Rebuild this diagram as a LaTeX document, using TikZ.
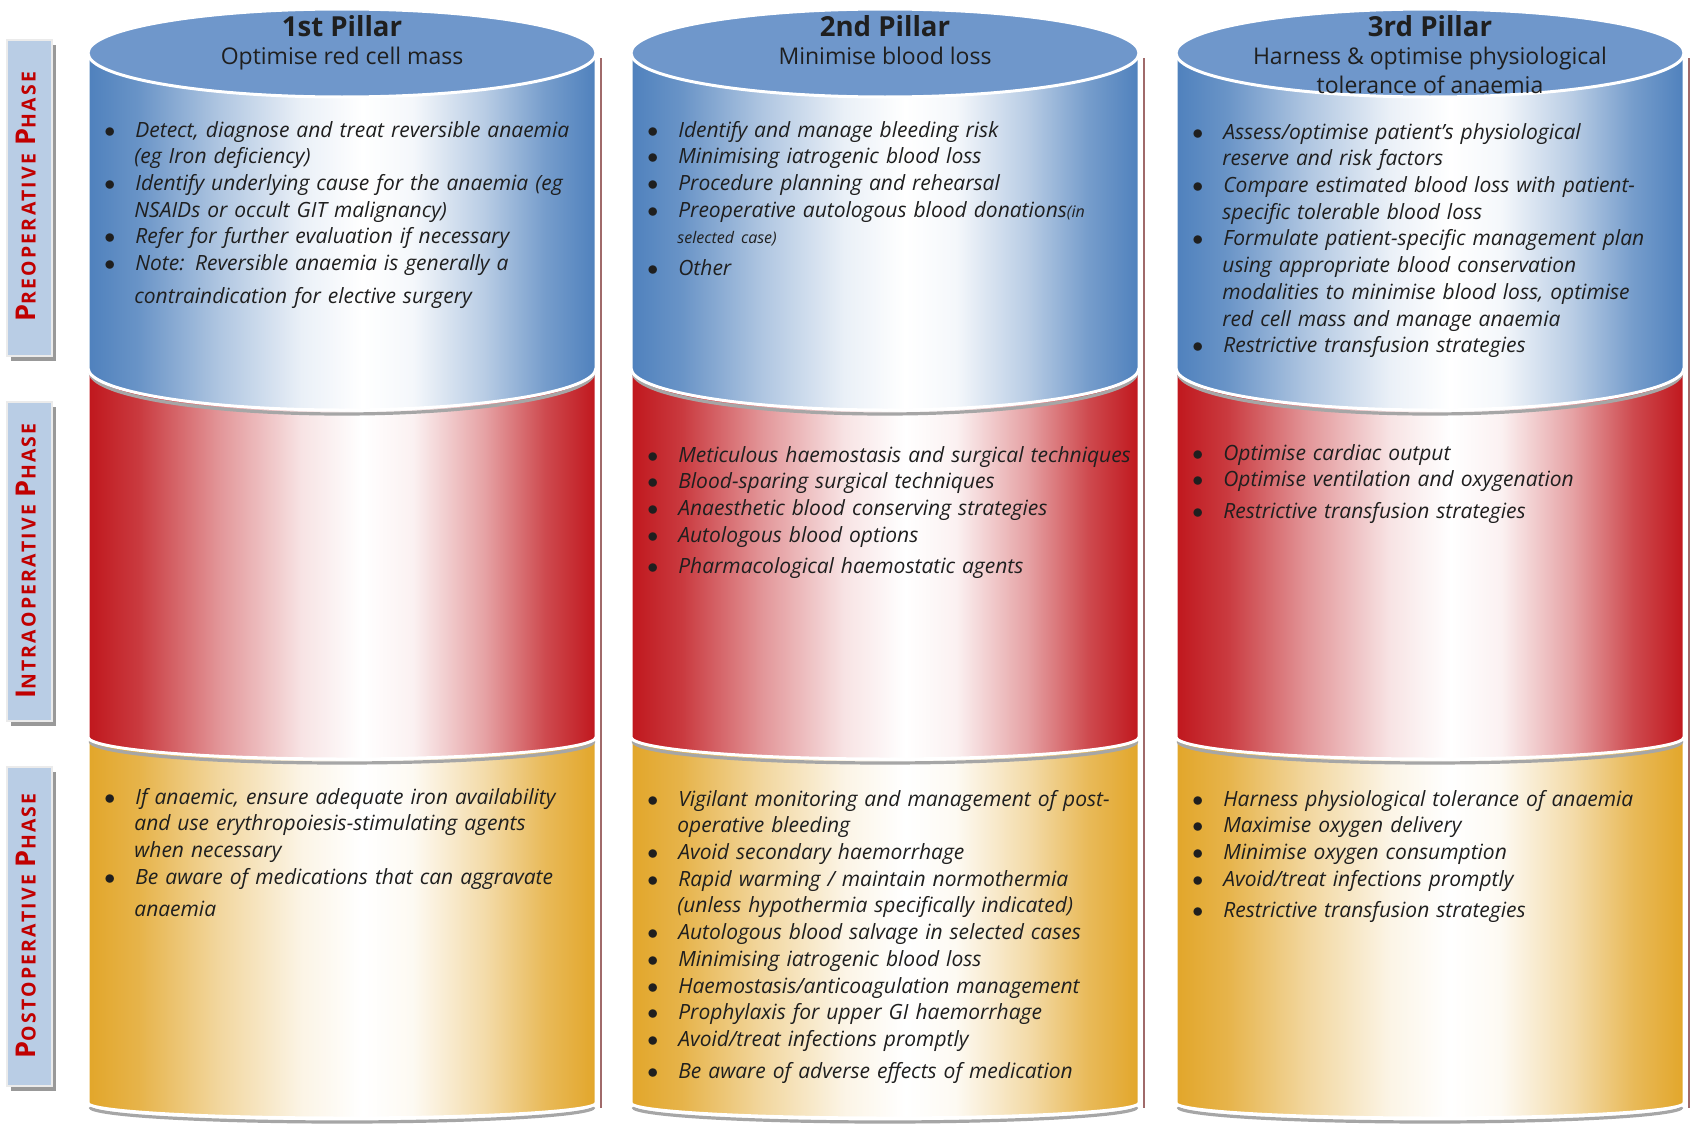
\documentclass[tikz,border=0pt]{standalone}
\usepackage{fontspec}
\setmainfont{Open Sans}
\newfontfamily\phasefont[LetterSpace=12]{Open Sans}
\usetikzlibrary{positioning}
\definecolor{segblue}{HTML}{4F81BD}
\definecolor{capblue}{HTML}{6F97CB}
\definecolor{segred}{HTML}{C0171D}
\definecolor{seggold}{HTML}{E2A62A}
\definecolor{phasefill}{HTML}{B9CDE5}
\definecolor{phasered}{HTML}{C00000}
\definecolor{rim}{HTML}{A06A6A}

% side shading of a pillar band: colour at the rims, white a bit right of centre
\newcommand\bandshading[2]{%
  \pgfdeclarehorizontalshading{#1}{100bp}{color(0bp)=(#2); color(25bp)=(#2);
    color(30bp)=(#2!85!white); color(38bp)=(#2!45!white); color(46bp)=(#2!12!white);
    color(52bp)=(white); color(57bp)=(#2!6!white); color(64bp)=(#2!40!white);
    color(70bp)=(#2!78!white); color(75bp)=(#2); color(100bp)=(#2)}}
\bandshading{bandblue}{segblue}
\bandshading{bandred}{segred}
\bandshading{bandgold}{seggold}

\newenvironment{pillarlist}{\begin{list}{$\bullet$}{%
  \setlength{\leftmargin}{16pt}\setlength{\labelwidth}{5pt}\setlength{\labelsep}{10pt}%
  \setlength{\itemsep}{0pt}\setlength{\parsep}{0pt}\setlength{\topsep}{0pt}%
  \setlength{\partopsep}{0pt}}}{\end{list}}
\newcommand\capword[2]{{\fontsize{13.6}{13.6}\selectfont #1}{\fontsize{9.7}{9.7}\selectfont #2}}
\newcommand\gap{\vspace{2.5pt}}

\begin{document}
\begin{tikzpicture}[x=0.5pt,y=-0.5pt,
    bandedge/.style={draw=white,line width=1.5pt},
    bandshadow/.style={black!35,line width=1.6pt},
    items/.style={anchor=north west,inner sep=0pt,text width=250pt,align=left,
      font=\fontsize{10.5}{13.35}\selectfont\itshape,text=black!88},
    pillartitle/.style={anchor=north,inner sep=0pt,align=center,
      font=\fontsize{11.5}{14.2}\selectfont,text=black!88},
    phasebox/.style={fill=phasefill,draw=black!8,line width=0.8pt},
    phaselabel/.style={rotate=90,font=\phasefont\bfseries,text=phasered}]
  \fill[white] (0,0) rectangle (1694,1124);
  \useasboundingbox (0,0) rectangle (1694,1124);

  % Phase tabs
  \fill[black!40] (11,45) rectangle (56,361);
  \fill[phasebox] (7,40) rectangle (52,356);
  \node[phaselabel] (prelabel) at (26,197) {\capword{P}{REOPERATIVE} \capword{P}{HASE}};

  \fill[black!40] (11,407) rectangle (56,726);
  \fill[phasebox] (7,402) rectangle (52,721);
  \node[phaselabel] (intralabel) at (26,561) {\capword{I}{NTRAOPERATIVE} \capword{P}{HASE}};

  \fill[black!40] (11,772) rectangle (56,1091);
  \fill[phasebox] (7,767) rectangle (52,1086);
  \node[phaselabel] (postlabel) at (26,926) {\capword{P}{OSTOPERATIVE} \capword{P}{HASE}};

  % Pillars: gold base, red middle, blue top band and cap
  \foreach \cx in {342,885,1430}{
    \draw[rim,line width=0.6pt] (\cx+259,58) -- (\cx+259,1108);
    \draw[bandshadow] (\cx-252,1107) arc[start angle=180,end angle=0,x radius=252,y radius=15];
    \shadedraw[shading=bandgold,bandedge] (\cx-254,720) -- (\cx-254,1103)
      arc[start angle=180,end angle=0,x radius=254,y radius=15] -- (\cx+254,720) -- cycle;
    \draw[bandshadow] (\cx-252,741) arc[start angle=180,end angle=0,x radius=252,y radius=22];
    \shadedraw[shading=bandred,bandedge] (\cx-254,360) -- (\cx-254,737)
      arc[start angle=180,end angle=0,x radius=254,y radius=22] -- (\cx+254,360) -- cycle;
    \draw[bandshadow] (\cx-252,372) arc[start angle=180,end angle=0,x radius=252,y radius=42];
    \shadedraw[shading=bandblue,bandedge] (\cx-254,53) -- (\cx-254,368)
      arc[start angle=180,end angle=0,x radius=254,y radius=42] -- (\cx+254,53) -- cycle;
    \filldraw[fill=capblue,bandedge] (\cx,53) ellipse [x radius=254,y radius=44];
  }

  % Titles
  \node[pillartitle] (title1) at (342,15)
    {{\fontsize{13.8}{14}\selectfont\bfseries 1st Pillar}\\Optimise red cell mass};
  \node[pillartitle] (title2) at (885,15)
    {{\fontsize{13.8}{14}\selectfont\bfseries 2nd Pillar}\\Minimise blood loss};
  \node[pillartitle] (title3) at (1430,15)
    {{\fontsize{13.8}{14}\selectfont\bfseries 3rd Pillar}\\Harness \& optimise physiological\\tolerance of anaemia};

  % 1st pillar
  \node[items] (p1pre) at (102,110) {\begin{pillarlist}
    \item Detect, diagnose and treat reversible anaemia\\(eg Iron deficiency)
    \item Identify underlying cause for the anaemia (eg\\NSAIDs or occult GIT malignancy)
    \item Refer for further evaluation if necessary
    \item Note: Reversible anaemia is generally a\\[3pt]contraindication for elective surgery
  \end{pillarlist}};
  \node[items] (p1post) at (102,777) {\begin{pillarlist}
    \item If anaemic, ensure adequate iron availability\\and use erythropoiesis-stimulating agents\\when necessary
    \item Be aware of medications that can aggravate\\[3pt]anaemia
  \end{pillarlist}};

  % 2nd pillar
  \node[items] (p2pre) at (645,110) {\begin{pillarlist}
    \item Identify and manage bleeding risk
    \item Minimising iatrogenic blood loss
    \item Procedure planning and rehearsal
    \item Preoperative autologous blood donations{\fontsize{8}{9}\selectfont(in}\\{\fontsize{8}{9}\selectfont selected case)}
    \gap\item Other
  \end{pillarlist}};
  \node[items] (p2intra) at (645,435) {\begin{pillarlist}
    \item Meticulous haemostasis and surgical techniques
    \item Blood-sparing surgical techniques
    \item Anaesthetic blood conserving strategies
    \item Autologous blood options
    \gap\item Pharmacological haemostatic agents
  \end{pillarlist}};
  \node[items] (p2post) at (645,779) {\begin{pillarlist}
    \item Vigilant monitoring and management of post-\\operative bleeding
    \item Avoid secondary haemorrhage
    \item Rapid warming / maintain normothermia\\(unless hypothermia specifically indicated)
    \item Autologous blood salvage in selected cases
    \item Minimising iatrogenic blood loss
    \item Haemostasis/anticoagulation management
    \item Prophylaxis for upper GI haemorrhage
    \item Avoid/treat infections promptly
    \gap\item Be aware of adverse effects of medication
  \end{pillarlist}};

  % 3rd pillar
  \node[items] (p3pre) at (1190,112) {\begin{pillarlist}
    \item Assess/optimise patient's physiological\\reserve and risk factors
    \item Compare estimated blood loss with patient-\\specific tolerable blood loss
    \item Formulate patient-specific management plan\\using appropriate blood conservation\\modalities to minimise blood loss, optimise\\red cell mass and manage anaemia
    \item Restrictive transfusion strategies
  \end{pillarlist}};
  \node[items] (p3intra) at (1190,433) {\begin{pillarlist}
    \item Optimise cardiac output
    \item Optimise ventilation and oxygenation
    \gap\item Restrictive transfusion strategies
  \end{pillarlist}};
  \node[items] (p3post) at (1190,779) {\begin{pillarlist}
    \item Harness physiological tolerance of anaemia
    \item Maximise oxygen delivery
    \item Minimise oxygen consumption
    \item Avoid/treat infections promptly
    \gap\item Restrictive transfusion strategies
  \end{pillarlist}};
\end{tikzpicture}
\end{document}
